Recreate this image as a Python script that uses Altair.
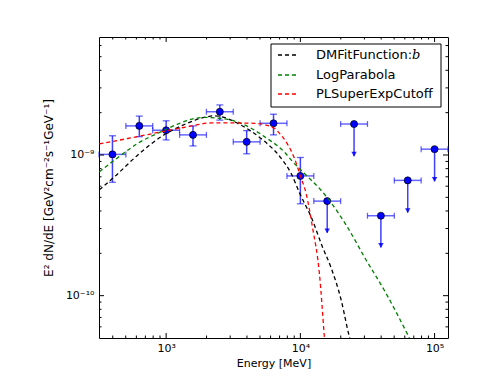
import altair as alt
import pandas as pd

# ---------------- data ----------------
energy = [398, 631, 1000, 1585, 2512, 3981, 6310, 10000, 15849, 25119, 39811, 63096, 100000]
e_low = [316, 501, 794, 1259, 1995, 3162, 5012, 7943, 12589, 19953, 31623, 50119, 79433]
e_high = [501, 794, 1259, 1995, 3162, 5012, 7943, 12589, 19953, 31623, 50119, 79433, 125893]
flux = [1.01e-9, 1.61e-9, 1.50e-9, 1.39e-9, 2.03e-9, 1.24e-9, 1.68e-9, 7.1e-10,
        4.7e-10, 1.66e-9, 3.7e-10, 6.6e-10, 1.10e-9]
flux_low = [6.4e-10, 1.35e-9, 1.28e-9, 1.16e-9, 1.77e-9, 1.02e-9, 1.39e-9, 4.5e-10,
            2.8e-10, 9.8e-10, 2.2e-10, 3.9e-10, 6.5e-10]
flux_high = [1.37e-9, 1.89e-9, 1.75e-9, 1.61e-9, 2.27e-9, 1.49e-9, 1.95e-9, 9.6e-10,
             4.7e-10, 1.66e-9, 3.7e-10, 6.6e-10, 1.10e-9]
upper_limit = [False] * 8 + [True] * 5

# model curves
dm_e = [318, 412, 615, 918, 1294, 1928, 2291, 3615, 5093, 7178, 8531, 9840, 12280,
        14590, 16940, 20090, 23170, 24000]
dm_f = [5.65e-10, 7.0e-10, 1.0e-9, 1.35e-9, 1.61e-9, 1.85e-9, 1.90e-9, 1.63e-9, 1.31e-9,
        9.5e-10, 7.4e-10, 5.4e-10, 3.46e-10, 2.23e-10, 1.58e-10, 9.4e-11, 5.1e-11, 4.5e-11]
lp_e = [318, 412, 615, 1000, 1220, 1928, 2570, 3615, 5400, 7590, 8770, 11020, 13840,
        17410, 21880, 30830, 43450, 61230, 67000]
lp_f = [7.6e-10, 9.2e-10, 1.21e-9, 1.52e-9, 1.66e-9, 1.85e-9, 1.82e-9, 1.68e-9, 1.35e-9,
        1.05e-9, 8.96e-10, 7.2e-10, 5.8e-10, 4.42e-10, 3.19e-10, 1.80e-10, 1.04e-10,
        5.58e-11, 4.7e-11]
pl_e = [318, 518, 918, 1449, 2163, 3226, 4543, 6400, 6970, 7995, 9020, 10000, 11020,
        12340, 13840, 15090, 15350]
pl_f = [1.20e-9, 1.31e-9, 1.46e-9, 1.59e-9, 1.69e-9, 1.69e-9, 1.68e-9, 1.55e-9, 1.43e-9,
        1.20e-9, 9.5e-10, 7.1e-10, 5.35e-10, 3.03e-10, 1.46e-10, 5.1e-11, 4.1e-11]

model_names = ["DMFitFunction:b", "LogParabola", "PLSuperExpCutoff"]
model_colors = ["#000000", "#008000", "#ff0000"]

x_major = [1000, 10000, 100000]
x_major_labels = ["10³", "10⁴", "10⁵"]
x_minor = [400, 500, 600, 700, 800, 900, 2000, 3000, 4000, 5000, 6000, 7000, 8000, 9000,
           20000, 30000, 40000, 50000, 60000, 70000, 80000, 90000]
y_major = [1e-10, 1e-9]
y_major_labels = ["10⁻¹⁰", "10⁻⁹"]
y_minor = [6e-11, 7e-11, 8e-11, 9e-11, 2e-10, 3e-10, 4e-10, 5e-10, 6e-10, 7e-10, 8e-10,
           9e-10, 2e-9, 3e-9, 4e-9, 5e-9, 6e-9]

x_domain = [316, 125893]
y_domain = [5.0e-11, 6.9e-9]

# ---------------- chart ----------------
W, H = 349, 301
FONT = "DejaVu Sans"
xs = alt.Scale(type="log", domain=x_domain, nice=False)
ys = alt.Scale(type="log", domain=y_domain, nice=False)

pts = pd.DataFrame({"E": energy, "Elo": e_low, "Ehi": e_high, "F": flux,
                    "Flo": flux_low, "Fhi": flux_high, "ul": upper_limit})
det = pts[~pts["ul"]]
uls = pts[pts["ul"]]


def lbl_expr(vals, labels):
    out = "''"
    for v, l in zip(vals, labels):
        out = "abs(log(datum.value) - log(%r)) < 0.01 ? '%s' : (%s)" % (v, l, out)
    return out


x_axis = alt.Axis(values=x_major, labelExpr=lbl_expr(x_major, x_major_labels), ticks=False,
                  domain=False, grid=False, labelFont=FONT, labelFontSize=11, labelPadding=4,
                  labelColor="black", title="Energy [MeV]", titleFont=FONT, titleFontSize=11,
                  titleFontWeight="normal", titleColor="black", titlePadding=4, labelFlush=False)
y_axis = alt.Axis(values=y_major, labelExpr=lbl_expr(y_major, y_major_labels), ticks=False,
                  domain=False, grid=False, labelFont=FONT, labelFontSize=11, labelPadding=5,
                  labelColor="black", title="E² dN/dE [GeV²cm⁻²s⁻¹GeV⁻¹]", titleFont=FONT,
                  titleFontSize=12, titleFontWeight="normal", titleColor="black",
                  titlePadding=10, labelFlush=False)


def X(f):
    return alt.X(f, scale=xs, axis=x_axis)


def Y(f):
    return alt.Y(f, scale=ys, axis=y_axis)


BLUE = "#0000ff"

hbar = alt.Chart(pts).mark_rule(color=BLUE, opacity=0.6, strokeWidth=1.5).encode(
    x=X("Elo:Q"), x2="Ehi:Q", y=Y("F:Q"))

caps_h = alt.Chart(pts).transform_fold(["Elo", "Ehi"], as_=["k", "edge"]).mark_tick(
    color=BLUE, opacity=0.6, orient="vertical", size=6, thickness=1.3).encode(
    x=X("edge:Q"), y=Y("F:Q"))

vbar = alt.Chart(pts).mark_rule(color=BLUE, opacity=0.75, strokeWidth=1.5).encode(
    x=X("E:Q"), y=Y("Flo:Q"), y2="Fhi:Q")

caps_v = alt.Chart(det).transform_fold(["Flo", "Fhi"], as_=["k", "edge"]).mark_tick(
    color=BLUE, opacity=0.6, orient="horizontal", size=7, thickness=1.3).encode(
    x=X("E:Q"), y=Y("edge:Q"))

arrows = alt.Chart(uls).mark_point(shape="triangle-down", filled=True, color=BLUE,
                                   opacity=0.85, size=30, yOffset=-2).encode(
    x=X("E:Q"), y=Y("Flo:Q"))

markers = alt.Chart(pts).mark_point(shape="circle", filled=True, fill=BLUE, stroke="black",
                                    strokeWidth=0.7, size=50, opacity=1).encode(
    x=X("E:Q"), y=Y("F:Q"))

curves = []
for es, fs, col in [(dm_e, dm_f, model_colors[0]), (lp_e, lp_f, model_colors[1]),
                    (pl_e, pl_f, model_colors[2])]:
    d = pd.DataFrame({"E": es, "F": fs})
    curves.append(alt.Chart(d).mark_line(color=col, strokeDash=[4, 3], strokeWidth=1.3,
                                         clip=True, interpolate="monotone").encode(
        x=X("E:Q"), y=Y("F:Q")))

# inward tick marks on all four sides
ticks = []
for vals, ln in [(x_major, 5), (x_minor, 2.5)]:
    d = pd.DataFrame({"E": vals})
    ticks.append(alt.Chart(d).mark_rule(color="black", strokeWidth=1).encode(
        x=X("E:Q"), y=alt.value(H), y2=alt.value(H - ln)))
    ticks.append(alt.Chart(d).mark_rule(color="black", strokeWidth=1).encode(
        x=X("E:Q"), y=alt.value(0), y2=alt.value(ln)))
for vals, ln in [(y_major, 5), (y_minor, 2.5)]:
    d = pd.DataFrame({"F": vals})
    ticks.append(alt.Chart(d).mark_rule(color="black", strokeWidth=1).encode(
        y=Y("F:Q"), x=alt.value(0), x2=alt.value(ln)))
    ticks.append(alt.Chart(d).mark_rule(color="black", strokeWidth=1).encode(
        y=Y("F:Q"), x=alt.value(W), x2=alt.value(W - ln)))

# legend
one = pd.DataFrame({"a": [0]})
legend = [alt.Chart(one).mark_rect(fill="white", stroke="black", strokeWidth=1).encode(
    x=alt.value(172), x2=alt.value(342), y=alt.value(7), y2=alt.value(70))]
row_y = [18, 38, 57]
for i, (name, col) in enumerate(zip(model_names, model_colors)):
    legend.append(alt.Chart(one).mark_rule(color=col, strokeDash=[4, 3], strokeWidth=1.3).encode(
        x=alt.value(179), x2=alt.value(200), y=alt.value(row_y[i])))
    txt = name[:-1] if i == 0 else name
    legend.append(alt.Chart(one).mark_text(align="left", baseline="middle", font=FONT,
                                           fontSize=13, color="black", text=txt).encode(
        x=alt.value(217), y=alt.value(row_y[i])))
legend.append(alt.Chart(one).mark_text(align="left", baseline="middle", font="DejaVu Serif",
                                       fontStyle="italic", fontSize=13, color="black",
                                       text=model_names[0][-1]).encode(
    x=alt.value(313), y=alt.value(row_y[0])))

chart = alt.layer(hbar, caps_h, vbar, caps_v, arrows, markers, *curves, *ticks, *legend).properties(
    width=W, height=H,
    background="white",
    padding={"left": 91, "top": 29, "right": 30, "bottom": 36},
    autosize=alt.AutoSizeParams(type="none"),
).configure_view(stroke="black", strokeWidth=1)

chart.save("out.html", embed_options={"renderer": "svg", "actions": False})
